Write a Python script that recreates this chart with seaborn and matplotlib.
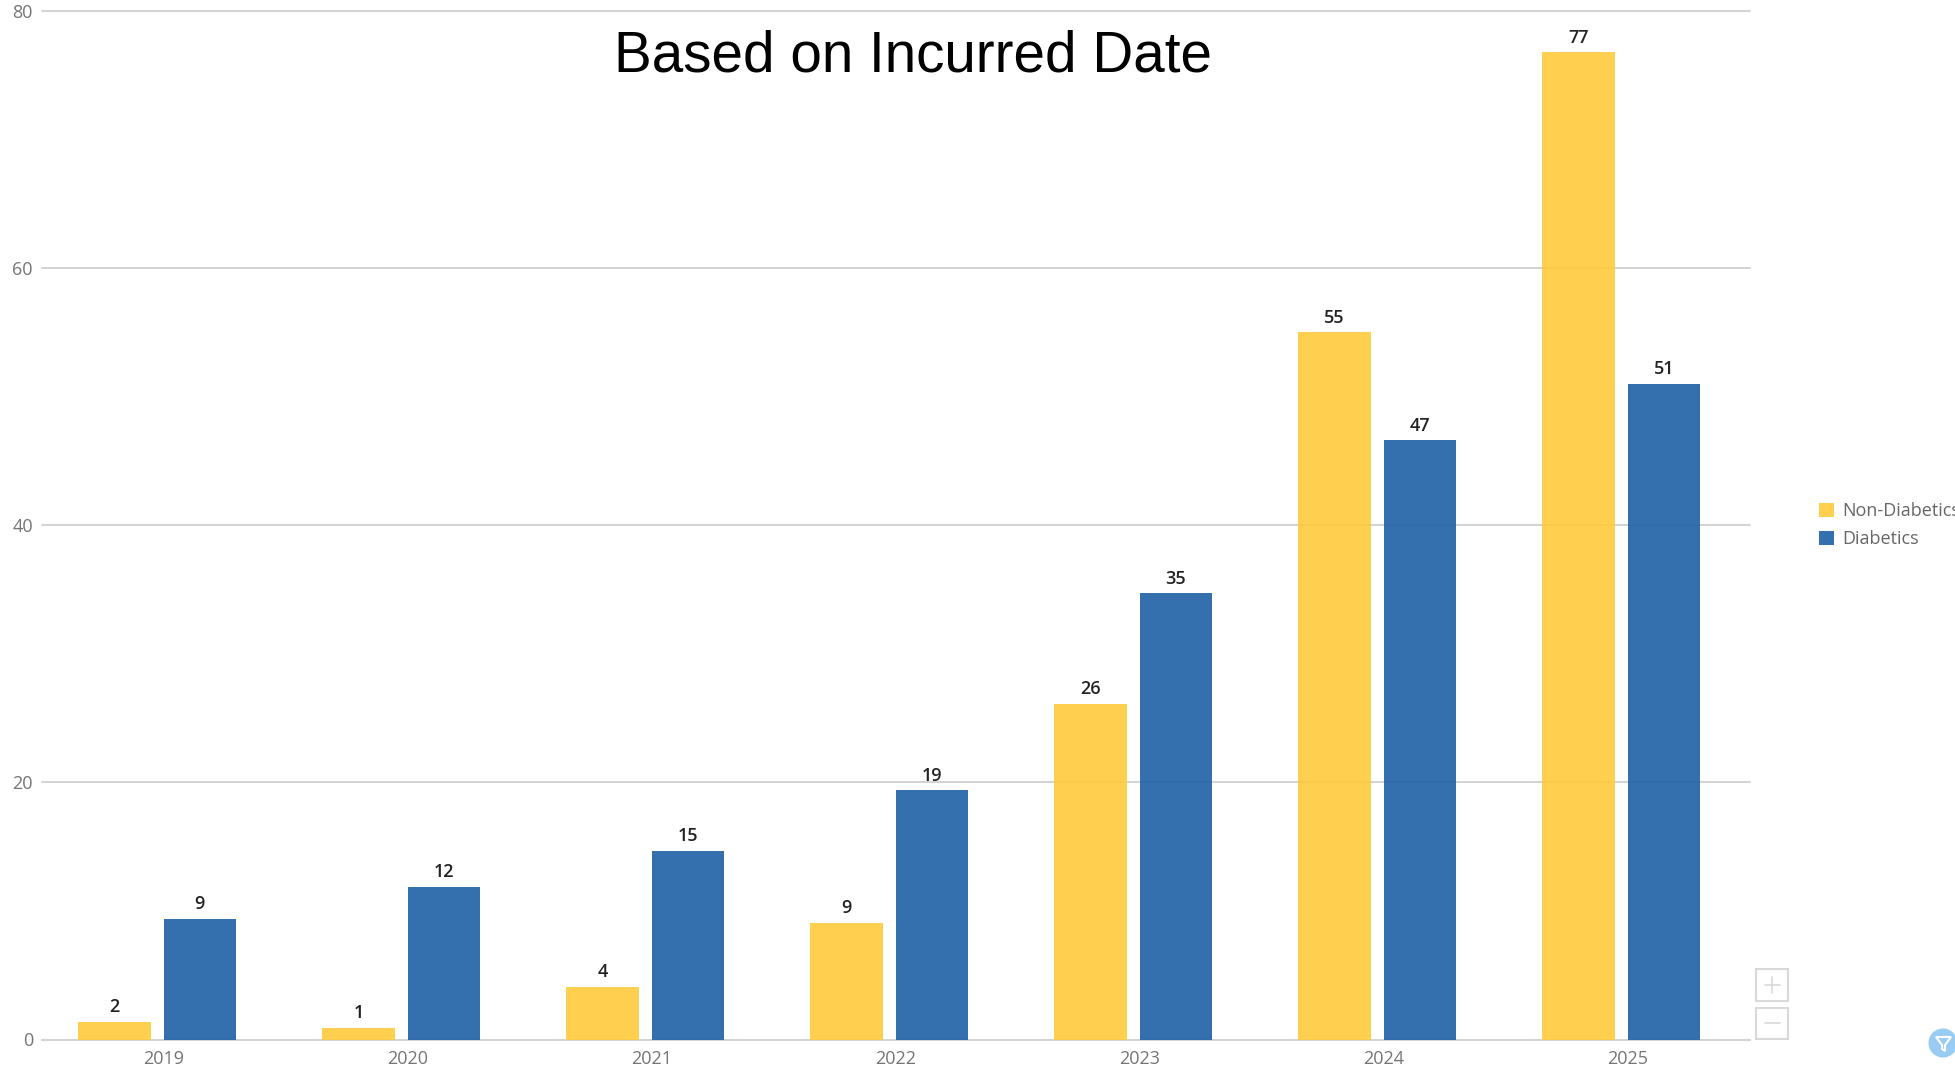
import matplotlib
matplotlib.use("Agg")
import matplotlib.pyplot as plt
from matplotlib.patches import Rectangle, Circle, Polygon
from matplotlib.lines import Line2D
import pandas as pd
import seaborn as sns

years = ["2019", "2020", "2021", "2022", "2023", "2024", "2025"]
non_diabetics = [1.4, 0.9, 4.1, 9.1, 26.1, 55.0, 76.8]
diabetics = [9.4, 11.9, 14.7, 19.4, 34.7, 46.6, 51.0]
non_diabetics_labels = ["2", "1", "4", "9", "26", "55", "77"]
diabetics_labels = ["9", "12", "15", "19", "35", "47", "51"]
series_names = ["Non-Diabetics", "Diabetics"]
y_ticks = [0, 20, 40, 60, 80]
title_text = "Based on Incurred Date"

W, H = 1956, 1066
sns.set_theme(style="white")
plt.rcParams["font.family"] = ["Open Sans", "DejaVu Sans"]

df = pd.DataFrame({
    "Year": years * 2,
    "Count": non_diabetics + diabetics,
    "Series": [series_names[0]] * len(years) + [series_names[1]] * len(years),
})

fig = plt.figure(figsize=(W / 100, H / 100), dpi=100, facecolor="white")
ax = fig.add_axes([42 / W, 1 - 1039.5 / H, (1750 - 42) / W, (1039.5 - 11) / H])

sns.barplot(
    data=df, x="Year", y="Count", hue="Series", order=years, hue_order=series_names,
    palette={series_names[0]: "#FFCA3C", series_names[1]: "#1F60A5"},
    saturation=1, width=0.7, gap=0.153, alpha=0.9, errorbar=None, legend=False,
    edgecolor="#FFFFFF", linewidth=0, ax=ax, zorder=3,
)

# The bars sit slightly left of their category labels in the reference.
shift = 0.028
ax.set_xlim(-0.5 + shift, 6.5 + shift)
ax.set_xticks([i + shift for i in range(len(years))], labels=years)
ax.set_ylim(0, 80)
ax.set_yticks(y_ticks)
ax.set_xlabel("")
ax.set_ylabel("")
ax.grid(axis="y", color="#D2D2D2", linewidth=1.4, zorder=1, clip_on=False)
ax.grid(axis="x", visible=False)
ax.set_axisbelow(True)
for gl in ax.get_ygridlines():
    gl.set_clip_on(False)
for s in ax.spines.values():
    s.set_visible(False)
ax.tick_params(axis="y", length=0, pad=6.5, labelsize=13, labelcolor="#757575")
ax.tick_params(axis="x", length=0, pad=7.5, labelsize=13, labelcolor="#757575")

for cont, labs in zip(ax.containers, [non_diabetics_labels, diabetics_labels]):
    ax.bar_label(cont, labels=labs, padding=4, fontsize=13, fontweight="semibold",
                 color="#222222", zorder=5)

fig.text(913 / W, 1 - 56 / H, title_text, ha="center", va="center", fontsize=40.8,
         color="black", family="Liberation Sans")

# legend
handles = [Rectangle((0, 0), 1, 1, facecolor=c, edgecolor="none") for c in ("#FFCF50", "#3570AE")]
fig.legend(handles, series_names, loc="upper left", bbox_to_anchor=(1814 / W, 1 - 497 / H),
           bbox_transform=fig.transFigure, frameon=False, fontsize=13,
           labelcolor="#666666", handlelength=0.8, handleheight=0.8, handletextpad=0.45,
           labelspacing=0.55, borderpad=0.3, borderaxespad=0)

# zoom buttons and filter icon (interface chrome)
def px_rect(x0, y0, x1, y1, **kw):
    fig.add_artist(Rectangle((x0 / W, 1 - y1 / H), (x1 - x0) / W, (y1 - y0) / H,
                             transform=fig.transFigure, **kw))

def px_line(xs, ys, **kw):
    fig.add_artist(Line2D([x / W for x in xs], [1 - y / H for y in ys],
                          transform=fig.transFigure, **kw))

btn = dict(facecolor="white", edgecolor="#D9D9D9", linewidth=1.5)
px_rect(1756, 969, 1788, 1001, **btn)
px_rect(1756, 1008, 1788, 1039, **btn)
px_line([1765, 1780], [985, 985], color="#D9D9D9", lw=1.2)
px_line([1772.5, 1772.5], [977, 993], color="#D9D9D9", lw=1.2)
px_line([1765, 1780], [1023, 1023], color="#D9D9D9", lw=1.2)

ax_px = fig.add_axes([0, 0, 1, 1], facecolor="none")
ax_px.set_xlim(0, W)
ax_px.set_ylim(H, 0)
ax_px.axis("off")
ax_px.add_patch(Circle((1943, 1043), 14.5, facecolor="#98CCF2", edgecolor="none"))
ax_px.add_patch(Polygon([(1936, 1037), (1951, 1037), (1945, 1045), (1945, 1051), (1942, 1049), (1942, 1045)],
                        closed=True, facecolor="#98CCF2", edgecolor="white", linewidth=1.5))

fig.savefig("out.png", dpi=100, facecolor="white")
